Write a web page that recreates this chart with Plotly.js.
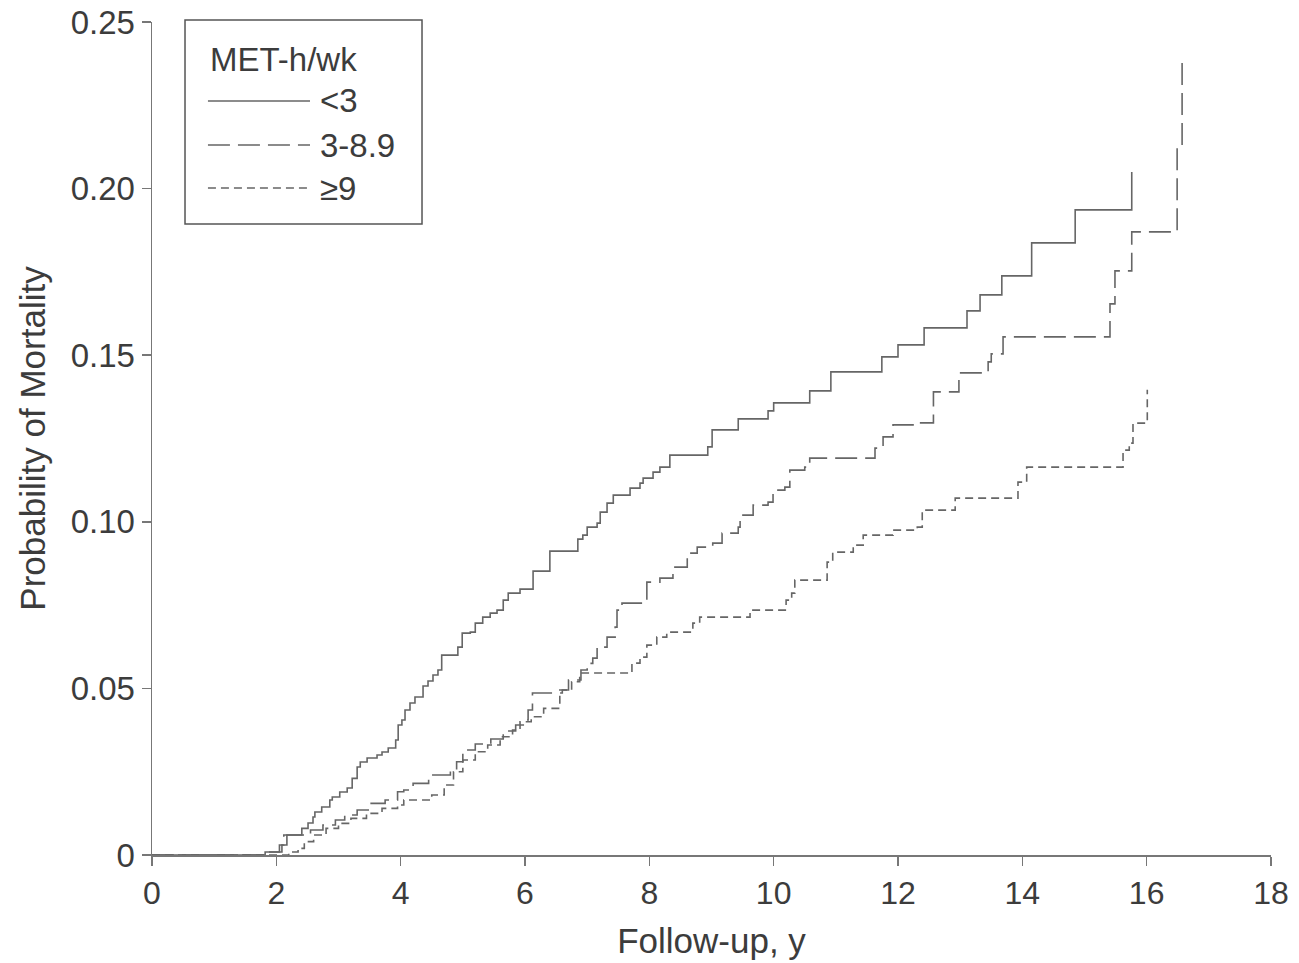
<!DOCTYPE html>
<html>
<head>
<meta charset="utf-8">
<script src="https://cdn.plot.ly/plotly-3.0.1.min.js"></script>
<style>html,body{margin:0;padding:0;background:#fff;}#chart{width:1299px;height:963px;}</style>
</head>
<body>
<div id="chart"></div>
<script>
// Follow-up time (years) and cumulative probability of mortality
var lowX = [0, 1.82, 2.09, 2.17, 2.41, 2.51, 2.59, 2.62, 2.73, 2.86, 2.90, 3.02, 3.14, 3.22, 3.30, 3.35, 3.46, 3.62, 3.70, 3.80, 3.92, 3.96, 4.02, 4.07, 4.15, 4.23, 4.36, 4.44, 4.52, 4.60, 4.66, 4.92, 4.99, 5.12, 5.20, 5.32, 5.44, 5.55, 5.65, 5.73, 5.92, 6.13, 6.40, 6.85, 6.93, 7.00, 7.16, 7.21, 7.32, 7.42, 7.69, 7.85, 7.90, 8.06, 8.17, 8.33, 8.94, 9.01, 9.43, 9.91, 10.00, 10.58, 10.92, 11.74, 12.00, 12.42, 13.11, 13.32, 13.67, 14.15, 14.85, 15.76];
var lowY = [0, 0.0009, 0.003, 0.006, 0.008, 0.0096, 0.0114, 0.0129, 0.0144, 0.0165, 0.0174, 0.0189, 0.0201, 0.023, 0.0264, 0.0279, 0.0291, 0.030, 0.0309, 0.0321, 0.0345, 0.039, 0.0405, 0.0435, 0.0456, 0.0474, 0.0507, 0.0522, 0.054, 0.0555, 0.060, 0.0624, 0.0666, 0.0669, 0.0696, 0.0714, 0.0726, 0.0735, 0.0765, 0.0786, 0.0798, 0.0852, 0.0912, 0.0948, 0.096, 0.0984, 0.0996, 0.1029, 0.1056, 0.108, 0.1101, 0.1116, 0.1131, 0.1149, 0.1164, 0.120, 0.1225, 0.1276, 0.1309, 0.1333, 0.1357, 0.1393, 0.145, 0.1495, 0.1531, 0.1582, 0.1633, 0.1681, 0.1738, 0.1837, 0.1936, 0.205];

var midX = [0, 1.85, 2.05, 2.12, 2.55, 2.75, 2.95, 3.10, 3.30, 3.50, 3.75, 3.95, 4.05, 4.20, 4.45, 4.80, 4.90, 5.00, 5.20, 5.45, 5.65, 5.85, 6.00, 6.05, 6.12, 6.60, 6.70, 6.90, 7.00, 7.09, 7.16, 7.32, 7.45, 7.48, 7.56, 7.96, 8.17, 8.38, 8.61, 8.77, 9.02, 9.17, 9.43, 9.46, 9.67, 9.91, 9.99, 10.18, 10.26, 10.50, 10.58, 11.63, 11.76, 11.92, 12.27, 12.57, 12.98, 13.45, 13.50, 13.69, 15.41, 15.49, 15.76, 16.49, 16.57];
var midY = [0, 0.0009, 0.003, 0.006, 0.0075, 0.009, 0.0105, 0.012, 0.0135, 0.0155, 0.0165, 0.019, 0.0195, 0.0215, 0.024, 0.0255, 0.028, 0.0315, 0.0333, 0.0348, 0.0372, 0.039, 0.0405, 0.0435, 0.0486, 0.0495, 0.0525, 0.0555, 0.0575, 0.0591, 0.0624, 0.0654, 0.0684, 0.0735, 0.0756, 0.0819, 0.0831, 0.0864, 0.0906, 0.0924, 0.0936, 0.0966, 0.0984, 0.102, 0.105, 0.1059, 0.1095, 0.1104, 0.1155, 0.1164, 0.1191, 0.1221, 0.1255, 0.1291, 0.1297, 0.139, 0.1447, 0.148, 0.1504, 0.1555, 0.1654, 0.1753, 0.187, 0.213, 0.239];

var highX = [0, 2.20, 2.35, 2.45, 2.60, 2.80, 3.00, 3.20, 3.45, 3.70, 3.95, 4.05, 4.50, 4.70, 4.85, 5.00, 5.20, 5.40, 5.60, 5.80, 5.92, 6.10, 6.30, 6.56, 6.75, 6.88, 7.72, 7.85, 7.96, 8.12, 8.28, 8.70, 8.81, 9.62, 10.20, 10.29, 10.34, 10.86, 10.95, 11.28, 11.44, 11.92, 12.31, 12.39, 12.92, 13.93, 14.07, 15.62, 15.72, 15.78, 15.98, 16.01];
var highY = [0, 0.0009, 0.002, 0.004, 0.006, 0.008, 0.0095, 0.011, 0.0125, 0.014, 0.015, 0.0165, 0.018, 0.021, 0.025, 0.0285, 0.031, 0.033, 0.0355, 0.0375, 0.040, 0.0415, 0.044, 0.0495, 0.052, 0.0546, 0.0576, 0.0594, 0.063, 0.0654, 0.0669, 0.0696, 0.0714, 0.0735, 0.0765, 0.0786, 0.0825, 0.0879, 0.0909, 0.093, 0.096, 0.0975, 0.0984, 0.1035, 0.1071, 0.1119, 0.1164, 0.1215, 0.1236, 0.1296, 0.1302, 0.1396];

var seriesNames = ['&lt;3', '3-8.9', '\u22659'];
var legendTitle = 'MET-h/wk';
var xTickVals = [0, 2, 4, 6, 8, 10, 12, 14, 16, 18];
var yTickVals = [0, 0.05, 0.10, 0.15, 0.20, 0.25];
var yTickText = ['0', '0.05', '0.10', '0.15', '0.20', '0.25'];

var lineColor = '#666666';
var fontFam = 'Liberation Sans, Arial, Helvetica, sans-serif';
var textColor = '#3c3c3c';
var dashes = ['solid', '22px,8px', '8px,5px'];

var traces = [
  {x: lowX, y: lowY, name: seriesNames[0], mode: 'lines', line: {shape: 'hv', color: lineColor, width: 1.6, dash: dashes[0]}},
  {x: midX, y: midY, name: seriesNames[1], mode: 'lines', line: {shape: 'hv', color: lineColor, width: 1.6, dash: dashes[1]}},
  {x: highX, y: highY, name: seriesNames[2], mode: 'lines', line: {shape: 'hv', color: lineColor, width: 1.6, dash: dashes[2]}}
];

// Legend drawn as a boxed key in paper coordinates
var legendBox = {x0: 0.0295, x1: 0.2413, y0: 0.7575, y1: 1.0024};
var legendRowsY = [0.9052, 0.8523, 0.8007];
var legendTitleY = 0.9544;
var sampleX = [0.0500, 0.1412];
var labelX = 0.1483;

var shapes = [{
  type: 'rect', xref: 'paper', yref: 'paper',
  x0: legendBox.x0, x1: legendBox.x1, y0: legendBox.y0, y1: legendBox.y1,
  line: {color: '#555', width: 1.5}, fillcolor: '#fff', layer: 'above'
}];
var annotations = [{
  xref: 'paper', yref: 'paper', x: sampleX[0], y: legendTitleY, xanchor: 'left', yanchor: 'middle',
  text: legendTitle, showarrow: false, font: {family: fontFam, size: 33, color: textColor}
}];
for (var i = 0; i < 3; i++) {
  shapes.push({type: 'line', xref: 'paper', yref: 'paper', x0: sampleX[0], x1: sampleX[1], y0: legendRowsY[i], y1: legendRowsY[i],
    line: {color: lineColor, width: 1.6, dash: dashes[i]}, layer: 'above'});
  annotations.push({xref: 'paper', yref: 'paper', x: labelX, y: legendRowsY[i], xanchor: 'left', yanchor: 'middle',
    text: seriesNames[i], showarrow: false, font: {family: fontFam, size: 33, color: textColor}});
}

var layout = {
  width: 1299, height: 963,
  margin: {l: 152, r: 28, t: 22, b: 108},
  paper_bgcolor: '#fff', plot_bgcolor: '#fff',
  font: {family: fontFam, size: 33, color: textColor},
  showlegend: false,
  shapes: shapes,
  annotations: annotations,
  xaxis: {
    range: [0, 18], tickvals: xTickVals, ticks: 'outside', ticklen: 9, tickwidth: 1.5, tickcolor: '#777',
    showline: true, linecolor: '#777', linewidth: 1.5, showgrid: false, zeroline: false,
    tickfont: {family: fontFam, size: 32, color: textColor},
    title: {text: 'Follow-up, y', font: {family: fontFam, size: 35, color: textColor}, standoff: 18},
    fixedrange: true
  },
  yaxis: {
    range: [0, 0.25], tickvals: yTickVals, ticktext: yTickText, ticks: 'outside', ticklen: 9, tickwidth: 1.5, tickcolor: '#777',
    showline: true, linecolor: '#777', linewidth: 1.5, showgrid: false, zeroline: false,
    tickfont: {family: fontFam, size: 33, color: textColor},
    title: {text: 'Probability of Mortality', font: {family: fontFam, size: 35, color: textColor}, standoff: 14},
    fixedrange: true
  }
};

Plotly.newPlot('chart', traces, layout, {displayModeBar: false, staticPlot: true});
</script>
</body>
</html>
